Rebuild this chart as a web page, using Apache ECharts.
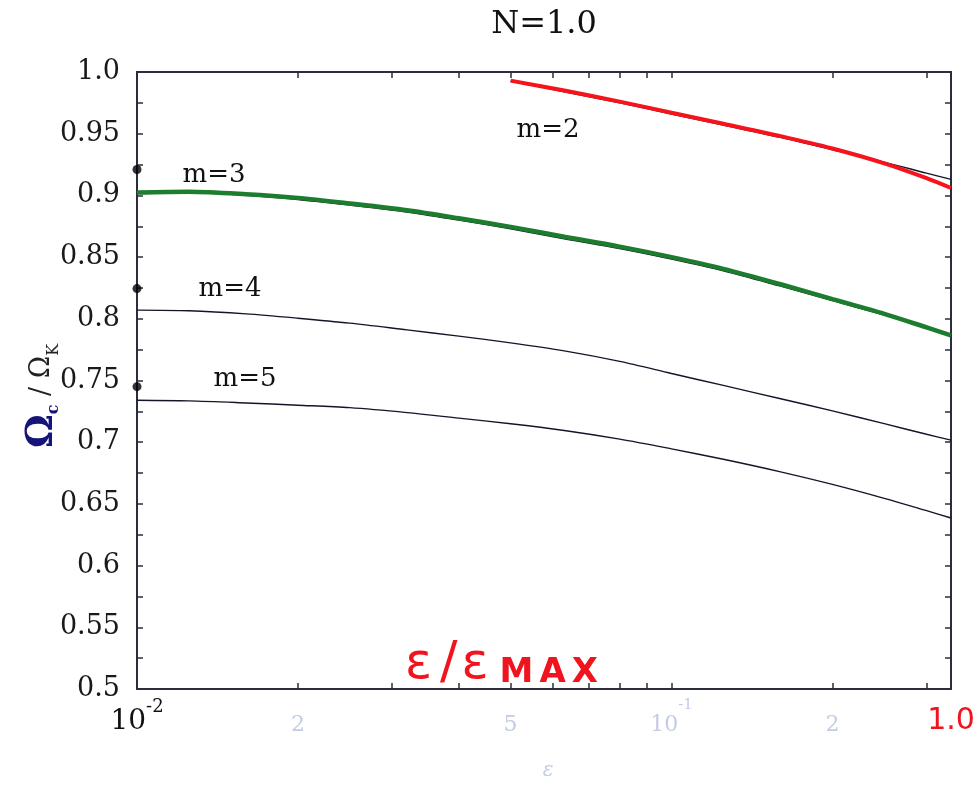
<!DOCTYPE html>
<html><head><meta charset="utf-8">
<script src="https://cdn.jsdelivr.net/npm/echarts@6/dist/echarts.min.js"></script>
<style>html,body{margin:0;padding:0;background:#fff}#c{width:978px;height:787px}</style>
</head><body><div id="c"></div><script>
// ---- data ----
const xM2 = [0.05, 0.063, 0.08, 0.1, 0.125, 0.16, 0.2, 0.25, 0.3, 0.3333];
const m2Black = [0.9925, 0.984, 0.975, 0.966, 0.957, 0.947, 0.937, 0.927, 0.918, 0.913];
const m2Red   = [0.993, 0.985, 0.976, 0.967, 0.958, 0.948, 0.938, 0.926, 0.914, 0.906];
const xM = [0.01, 0.0125, 0.016, 0.02, 0.025, 0.032, 0.04, 0.05, 0.063, 0.08, 0.1, 0.125, 0.16, 0.2, 0.25, 0.3, 0.3333];
const m3Black = [0.9015, 0.9022, 0.9002, 0.8968, 0.8922, 0.8866, 0.8800, 0.8730, 0.8650, 0.8570, 0.8485, 0.8390, 0.8265, 0.8148, 0.8032, 0.7925, 0.7862];
const m3Green = [0.9024, 0.9030, 0.9010, 0.8980, 0.8935, 0.8880, 0.8815, 0.8745, 0.8665, 0.8585, 0.8500, 0.8405, 0.8280, 0.8160, 0.8040, 0.7930, 0.7865];
const m4 = [0.807, 0.8065, 0.804, 0.8005, 0.7965, 0.791, 0.786, 0.7805, 0.774, 0.7655, 0.7557, 0.7460, 0.7352, 0.7254, 0.7150, 0.7064, 0.7017];
const m5 = [0.734, 0.7335, 0.7318, 0.7300, 0.7280, 0.7240, 0.7195, 0.7150, 0.7095, 0.7025, 0.6946, 0.6862, 0.6760, 0.6658, 0.6545, 0.6445, 0.6386];
const dotX = 0.01;
const dotY = [0.921, 0.8245, 0.745];
const xMin = 0.01, xMax = 0.3333;
const xTickValues = [0.01,0.02,0.03,0.04,0.05,0.06,0.07,0.08,0.09,0.1,0.2,0.3];
const xLabelValues = [0.01, 0.02, 0.05, 0.1, 0.2, 0.3333];
const xLabelTexts  = ['10^-2', '2', '5', '10^-1', '2', '1.0'];
const xLabelStyle  = ['dark', 'faint', 'faint', 'faint', 'faint', 'red'];
const yMin = 0.5, yMax = 1.0, yStep = 0.05;
const curveLabels = [['m=2', 548, 130], ['m=3', 214, 175], ['m=4', 230, 289], ['m=5', 245, 379]];

const zip = (xs, ys) => xs.map((x, i) => [x, ys[i]]);
const SERIF = '"DejaVu Serif", "Liberation Serif", serif';
const SANS = '"DejaVu Sans", sans-serif';

function fmtX(v) {
  let idx = -1;
  xLabelValues.forEach((t, i) => { if (Math.abs(t - v) / t < 0.01) idx = i; });
  if (idx < 0) return '';
  const txt = xLabelTexts[idx], st = xLabelStyle[idx];
  if (st === 'red') return '{r|' + txt + '}';
  const p = txt.split('^');
  const base = st === 'dark' ? 'b' : 'f';
  if (p.length === 2) return '{' + base + '|' + p[0] + '}{' + base + 's|' + p[1] + '}';
  return '{' + base + '|' + txt + '}';
}
function fmtY(v) {
  const r = Math.round(v * 100) / 100;
  return Number.isInteger(r) ? r.toFixed(1) : String(r);
}

const axisLineStyle = { color: '#2a2d3e', width: 2 };
const tickStyle = { color: '#2a2d3e', width: 1.5 };
const RED = '#f0141e';
const chart = echarts.init(document.getElementById('c'));
chart.setOption({
  animation: false,
  backgroundColor: '#fff',
  title: {
    text: 'N=1.0', left: 539, top: 4, textAlign: 'center',
    textStyle: { fontFamily: SERIF, fontSize: 32, fontWeight: 'normal', color: '#111' }
  },
  grid: { left: 137, right: 27, top: 72, bottom: 98 },
  xAxis: [{
    type: 'log', min: xMin, max: xMax, position: 'bottom',
    axisLine: { show: true, lineStyle: axisLineStyle },
    axisTick: { show: true, inside: true, length: 6, customValues: xTickValues, lineStyle: tickStyle },
    axisLabel: {
      show: true, customValues: xLabelValues, formatter: fmtX, margin: 9,
      rich: {
        b: { fontFamily: SERIF, fontSize: 28, color: '#111', lineHeight: 38, verticalAlign: 'bottom' },
        bs: { fontFamily: SERIF, fontSize: 18, color: '#111', lineHeight: 38, verticalAlign: 'top' },
        f: { fontFamily: SERIF, fontSize: 22, color: '#c3cce3', lineHeight: 38, verticalAlign: 'bottom' },
        fs: { fontFamily: SERIF, fontSize: 15, color: '#c3cce3', lineHeight: 38, verticalAlign: 'top' },
        r: { fontFamily: SANS, fontSize: 30, color: RED, lineHeight: 38, verticalAlign: 'bottom' }
      }
    },
    splitLine: { show: false }, minorTick: { show: false }
  }, {
    type: 'log', min: xMin, max: xMax, position: 'top',
    axisLine: { show: true, lineStyle: axisLineStyle },
    axisTick: { show: true, inside: true, length: 6, customValues: xTickValues, lineStyle: tickStyle },
    axisLabel: { show: false }, splitLine: { show: false }
  }],
  yAxis: [{
    type: 'value', min: yMin, max: yMax, interval: yStep, position: 'left',
    axisLine: { show: true, lineStyle: axisLineStyle },
    axisTick: { show: true, inside: true, length: 6, lineStyle: tickStyle },
    minorTick: { show: true, splitNumber: 2, length: 6, lineStyle: tickStyle },
    axisLabel: { formatter: fmtY, fontFamily: SERIF, fontSize: 27, color: '#1a1a1a', margin: 17 },
    splitLine: { show: false }
  }, {
    type: 'value', min: yMin, max: yMax, interval: yStep, position: 'right',
    axisLine: { show: true, lineStyle: axisLineStyle },
    axisTick: { show: true, inside: true, length: 6, lineStyle: tickStyle },
    minorTick: { show: true, splitNumber: 2, length: 6, lineStyle: tickStyle },
    axisLabel: { show: false }, splitLine: { show: false }
  }],
  series: [
    { type: 'line', name: 'm=2 (black)', data: zip(xM2, m2Black), smooth: 0.3, showSymbol: false, lineStyle: { color: '#15152a', width: 1.4 }, z: 3 },
    { type: 'line', name: 'm=2', data: zip(xM2, m2Red), smooth: 0.3, showSymbol: false, lineStyle: { color: '#f5141c', width: 4 }, z: 4 },
    { type: 'line', name: 'm=3 (black)', data: zip(xM, m3Black), smooth: 0.3, showSymbol: false, lineStyle: { color: '#15152a', width: 1.6 }, z: 3 },
    { type: 'line', name: 'm=3', data: zip(xM, m3Green), smooth: 0.3, showSymbol: false, lineStyle: { color: '#1d7d2e', width: 4.5 }, z: 4 },
    { type: 'line', name: 'm=4', data: zip(xM, m4), smooth: 0.3, showSymbol: false, lineStyle: { color: '#15152a', width: 1.4 }, z: 3 },
    { type: 'line', name: 'm=5', data: zip(xM, m5), smooth: 0.3, showSymbol: false, lineStyle: { color: '#15152a', width: 1.4 }, z: 3 },
    { type: 'scatter', name: 'dots', data: dotY.map(y => [dotX, y]), symbolSize: 9, itemStyle: { color: '#000' }, clip: false, z: 6 }
  ],
  graphic: [
    {
      type: 'text', x: 42, y: 396, rotation: Math.PI / 2, z: 10,
      style: {
        text: '{o|Ω}{s|c}{n| / Ω}{k|K}', align: 'center', verticalAlign: 'middle',
        rich: {
          o: { fontFamily: SERIF, fontSize: 38, fontWeight: 'bold', fill: '#14147a', lineHeight: 40, verticalAlign: 'middle' },
          s: { fontFamily: SERIF, fontSize: 16, fontWeight: 'bold', fill: '#14147a', lineHeight: 40, verticalAlign: 'bottom' },
          n: { fontFamily: SERIF, fontSize: 27, fill: '#222', lineHeight: 40, verticalAlign: 'middle' },
          k: { fontFamily: SERIF, fontSize: 16, fill: '#222', lineHeight: 40, verticalAlign: 'bottom' }
        }
      }
    },
    ...curveLabels.map(([t, x, y]) => ({
      type: 'text', x: x, y: y, z: 10,
      style: { text: t, font: '26px ' + SERIF, fill: '#111', align: 'center', verticalAlign: 'middle' }
    })),
    {
      type: 'text', x: 405, y: 690, z: 10,
      style: {
        text: '{e1|ε}{sl|/}{e2|ε}{m|M}{m|A}{m|X}', align: 'left', verticalAlign: 'bottom',
        rich: {
          e1: { fontFamily: SANS, fontSize: 50, fill: RED, lineHeight: 46, verticalAlign: 'bottom', padding: [0, 8, 0, 0] },
          sl: { fontFamily: SANS, fontSize: 52, fill: RED, lineHeight: 46, verticalAlign: 'bottom', padding: [0, 4, 0, 0] },
          e2: { fontFamily: SANS, fontSize: 50, fill: RED, lineHeight: 46, verticalAlign: 'bottom', padding: [0, 8, 0, 0] },
          m: { fontFamily: SANS, fontSize: 34, fontWeight: 'bold', fill: RED, lineHeight: 46, verticalAlign: 'bottom', padding: [0, 3, 0, 3] }
        }
      }
    },
    {
      type: 'text', x: 548, y: 771, z: 10,
      style: { text: 'ε', font: 'italic 20px ' + SERIF, fill: '#c3cce3', align: 'center', verticalAlign: 'middle' }
    }
  ]
});
</script></body></html>
